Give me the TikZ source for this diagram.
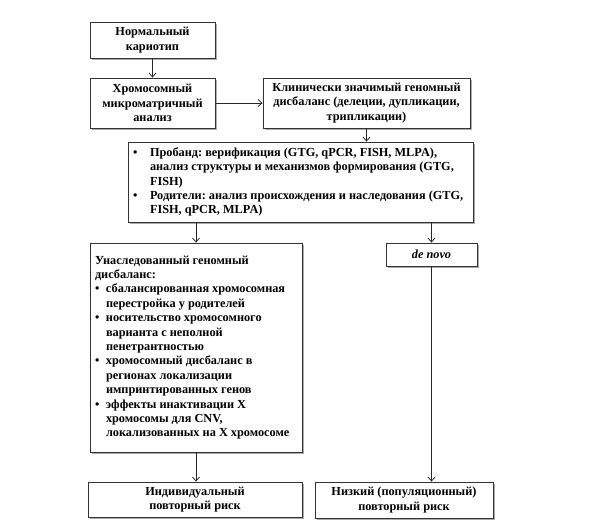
\documentclass[tikz,border=0pt]{standalone}
\usepackage{fontspec}
\setmainfont{Liberation Serif}
\usetikzlibrary{shadows, arrows.meta}
\frenchspacing

\newcommand{\itm}[2][11pt]{\par\noindent\hangindent=#1\hangafter=1\makebox[#1][l]{\textbullet}{\let\\\newline#2}}

\begin{document}
\begin{tikzpicture}[x=1pt, y=-1pt,
    box/.style={draw=black!80, line width=0.8pt, fill=white, align=center,
      font=\fontsize{12.3}{14.4}\selectfont\bfseries,
      drop shadow={shadow xshift=1.6pt, shadow yshift=-1.6pt, fill=black!55, opacity=0.6}},
    arr/.style={draw=black!85, line width=0.8pt, -{Straight Barb[length=4pt, width=7pt]}}]
  %tikz  CMA, risk
    \useasboundingbox (0,0) rectangle (600,531);
    \node[box, minimum width=125, minimum height=36] (karyo) at (152.5,40) {Нормальный\\кариотип};
    \node[box, minimum width=125, minimum height=50] (micro) at (152.5,103) {Хромосомный\\микроматричный\\анализ};
    \node[box, minimum width=207, minimum height=50, inner xsep=1pt] (clin) at (366.5,103) {Клинически значимый геномный\\дисбаланс (делеции, дупликации,\\трипликации)};
    \node[box, inner xsep=5pt, minimum width=345, minimum height=80] (prob) at (300.5,182) {%
      \begin{minipage}{335pt}\raggedright\parskip=0pt
      \itm[17pt]{Пробанд: верификация (GTG, qPCR, FISH, MLPA),\\анализ структуры и механизмов формирования (GTG,\\FISH)}
      \itm[17pt]{Родители: анализ происхождения и наследования (GTG,\\FISH, qPCR, MLPA)}
      \end{minipage}};
    \node[box, inner xsep=5pt, minimum width=212, minimum height=209] (inh) at (196,347.5) {%
      \begin{minipage}{202pt}\raggedright\parskip=0pt
      Унаследованный геномный\\дисбаланс:
      \itm{сбалансированная хромосомная\\перестройка у родителей}
      \itm{носительство хромосомного\\варианта с неполной\\пенетрантностью}
      \itm{хромосомный дисбаланс в\\регионах локализации\\импринтированных генов}
      \itm{эффекты инактивации X\\хромосомы для CNV,\\локализованных на X хромосоме}
      \end{minipage}};
    \node[box, minimum width=91, minimum height=23] (denovo) at (431.5,254.5) {\textit{de novo}};
    \node[box, minimum width=214, minimum height=35] (indiv) at (195,499.5) {Индивидуальный\\повторный риск};
    \node[box, minimum width=178, minimum height=36] (low) at (404,500) {Низкий (популяционный)\\повторный риск};
    \draw[arr] (karyo) -- (micro);
    \draw[arr] (micro) -- (clin);
    \draw[arr] (clin.south) -- (clin.south |- prob.north);
    \draw[arr] (prob.south -| inh.north) -- (inh.north);
    \draw[arr] (prob.south -| denovo.north) -- (denovo.north);
    \draw[arr] (inh.south) -- (inh.south |- indiv.north);
    \draw[arr] (denovo.south) -- (denovo.south |- low.north);
  \end{tikzpicture}
\end{document}
